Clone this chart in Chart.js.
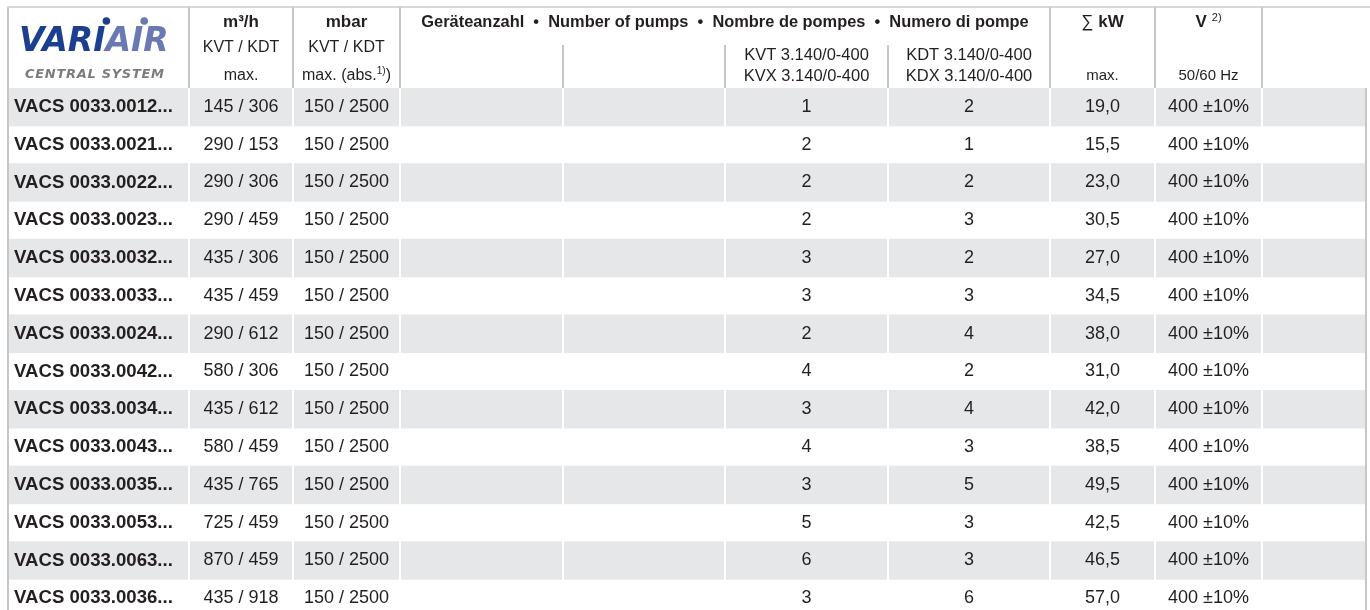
<!DOCTYPE html>
<html>
<head>
<meta charset="utf-8">
<script src="https://cdn.jsdelivr.net/npm/chart.js@4"></script>
<style>
html,body{margin:0;padding:0;background:#fff;overflow:hidden;}
#wrap{position:relative;width:1370px;height:620px;}
</style>
</head>
<body>
<div id="wrap"><canvas id="c"></canvas></div>
<script>
// ---- data ----
const models = ['VACS 0033.0012...','VACS 0033.0021...','VACS 0033.0022...','VACS 0033.0023...','VACS 0033.0032...','VACS 0033.0033...','VACS 0033.0024...','VACS 0033.0042...','VACS 0033.0034...','VACS 0033.0043...','VACS 0033.0035...','VACS 0033.0053...','VACS 0033.0063...','VACS 0033.0036...'];
const flowKVT = [145,290,290,290,435,435,290,580,435,580,435,725,870,435];
const flowKDT = [306,153,306,459,306,459,612,306,612,459,765,459,459,918];
const pressureKVT = [150,150,150,150,150,150,150,150,150,150,150,150,150,150];
const pressureKDT = [2500,2500,2500,2500,2500,2500,2500,2500,2500,2500,2500,2500,2500,2500];
const pumpsKVT = [1,2,2,2,3,3,2,4,3,4,3,5,6,3];
const pumpsKDT = [2,1,2,3,2,3,4,2,4,3,5,3,3,6];
const powerKW = [19.0,15.5,23.0,30.5,27.0,34.5,38.0,31.0,42.0,38.5,49.5,42.5,46.5,57.0];
const voltage = ['400 ±10%','400 ±10%','400 ±10%','400 ±10%','400 ±10%','400 ±10%','400 ±10%','400 ±10%','400 ±10%','400 ±10%','400 ±10%','400 ±10%','400 ±10%','400 ±10%'];
const headerUnits = ['m³/h','mbar','Geräteanzahl  •  Number of pumps  •  Nombre de pompes  •  Numero di pompe','kW','V'];
const subKVTKDT = 'KVT / KDT';
const pumpTypes = [['KVT 3.140/0-400','KVX 3.140/0-400'],['KDT 3.140/0-400','KDX 3.140/0-400']];

// ---- layout / style ----
const COL = [8,189,293,400,563,725,888,1050,1155,1262,1366];
const HEADER_H = 88;
const ROW_H = 37.8;
const TXT = '#231f20';
const STRIPE = '#e6e7e8';
const LINE = '#c6c7c8';
const FONT = '"Liberation Sans", Arial, sans-serif';

const fmtKW = v => v.toFixed(1).replace('.', ',');

const stripeData = models.map((m,i) => i % 2 === 0 ? [COL[0], COL[COL.length-1]] : null);

const tablePlugin = {
  id: 'tablePlugin',
  afterDatasetsDraw(chart) {
    const ctx = chart.ctx;
    const xs = chart.scales.x, ys = chart.scales.y;
    const X = v => xs.getPixelForValue(v);
    const top = chart.chartArea.top;
    const bottom = chart.canvas.height;
    const cx = i => X((COL[i] + COL[i+1]) / 2);
    ctx.save();

    // white separators inside striped rows
    ctx.strokeStyle = '#ffffff';
    ctx.lineWidth = 2;
    for (let i = 1; i < COL.length - 1; i++) {
      ctx.beginPath(); ctx.moveTo(X(COL[i]), top); ctx.lineTo(X(COL[i]), bottom); ctx.stroke();
    }
    // outer borders
    ctx.strokeStyle = LINE;
    ctx.beginPath(); ctx.moveTo(X(COL[0]), 7); ctx.lineTo(X(COL[0]), bottom); ctx.stroke();
    ctx.beginPath(); ctx.moveTo(X(COL[COL.length-1]), top); ctx.lineTo(X(COL[COL.length-1]), bottom); ctx.stroke();
    ctx.strokeStyle = '#d6d7d8';
    ctx.beginPath(); ctx.moveTo(X(COL[0]) - 1, 7); ctx.lineTo(chart.width, 7); ctx.stroke();
    // header separators
    ctx.strokeStyle = LINE;
    [1,2,3,7,8,9].forEach(i => { ctx.beginPath(); ctx.moveTo(X(COL[i]), 7); ctx.lineTo(X(COL[i]), top); ctx.stroke(); });
    [4,5,6].forEach(i => { ctx.beginPath(); ctx.moveTo(X(COL[i]), 45); ctx.lineTo(X(COL[i]), top); ctx.stroke(); });

    // logo
    ctx.textBaseline = 'alphabetic';
    ctx.textAlign = 'left';
    ctx.font = 'italic bold 33px "DejaVu Sans"';
    const lx = X(COL[0]) + 11, ly = 51;
    ctx.fillStyle = '#1d3f8f';
    ctx.fillText('VARI', lx, ly);
    const wV = ctx.measureText('VARI').width;
    const wVAR = ctx.measureText('VAR').width;
    const wI = ctx.measureText('I').width;
    ctx.fillStyle = '#6a78b4';
    ctx.fillText('AIR', lx + wV, ly);
    const wA = ctx.measureText('A').width;
    // dots of the i's
    ctx.fillStyle = '#1d3f8f';
    ctx.beginPath(); ctx.arc(lx + wVAR + wI*0.5 + 7, ly - 30, 3.8, 0, Math.PI*2); ctx.fill();
    ctx.fillStyle = '#6a78b4';
    ctx.beginPath(); ctx.arc(lx + wV + wA + wI*0.5 + 7, ly - 30, 3.8, 0, Math.PI*2); ctx.fill();
    ctx.font = 'italic bold 13px "DejaVu Sans"';
    ctx.fillStyle = '#7b7c7e';
    if ('letterSpacing' in ctx) ctx.letterSpacing = '0.7px';
    ctx.fillText('CENTRAL SYSTEM', X(COL[0]) + 17, 78);
    if ('letterSpacing' in ctx) ctx.letterSpacing = '0px';

    // header texts
    ctx.fillStyle = TXT;
    ctx.textAlign = 'center';
    ctx.textBaseline = 'middle';
    ctx.font = 'bold 17px ' + FONT;
    ctx.fillText(headerUnits[0], cx(1), 22);
    ctx.fillText(headerUnits[1], cx(2), 22);
    ctx.font = 'bold 16.4px ' + FONT;
    ctx.fillText(headerUnits[2], X((COL[3] + COL[7]) / 2), 22);
    // ∑ kW
    ctx.font = '17px ' + FONT;
    const sigW = ctx.measureText('∑ ').width;
    ctx.font = 'bold 17px ' + FONT;
    const kwW = ctx.measureText(headerUnits[3]).width;
    const kx = cx(7) - (sigW + kwW) / 2;
    ctx.textAlign = 'left';
    ctx.font = '17px ' + FONT;
    ctx.fillText('∑ ', kx, 22);
    ctx.font = 'bold 17px ' + FONT;
    ctx.fillText(headerUnits[3], kx + sigW, 22);
    // V with superscript
    const vW = ctx.measureText(headerUnits[4]).width;
    ctx.font = '11px ' + FONT;
    const sW = ctx.measureText('2)').width;
    const vx = cx(8) - (vW + 5 + sW) / 2;
    ctx.font = 'bold 17px ' + FONT;
    ctx.fillText(headerUnits[4], vx, 22);
    ctx.font = '11px ' + FONT;
    ctx.fillText('2)', vx + vW + 5, 18);

    ctx.textAlign = 'center';
    ctx.font = '16px ' + FONT;
    ctx.fillText(subKVTKDT, cx(1), 48);
    ctx.fillText(subKVTKDT, cx(2), 48);
    ctx.fillText('max.', cx(1), 76);
    // max. (abs.1))
    const p1 = 'max. (abs.', p3 = ')';
    const w1 = ctx.measureText(p1).width, w3 = ctx.measureText(p3).width;
    ctx.font = '10px ' + FONT;
    const w2 = ctx.measureText('1)').width;
    let ax = cx(2) - (w1 + w2 + w3) / 2;
    ctx.textAlign = 'left';
    ctx.font = '16px ' + FONT;
    ctx.fillText(p1, ax, 76);
    ctx.font = '10px ' + FONT;
    ctx.fillText('1)', ax + w1, 71);
    ctx.font = '16px ' + FONT;
    ctx.fillText(p3, ax + w1 + w2, 76);
    ctx.textAlign = 'center';
    ctx.font = '16.5px ' + FONT;
    ctx.fillText(pumpTypes[0][0], cx(5), 55);
    ctx.fillText(pumpTypes[0][1], cx(5), 76);
    ctx.fillText(pumpTypes[1][0], cx(6), 55);
    ctx.fillText(pumpTypes[1][1], cx(6), 76);
    ctx.font = '15px ' + FONT;
    ctx.fillText('max.', cx(7), 76);
    ctx.fillText('50/60 Hz', cx(8), 76);

    // body cells
    models.forEach((m, i) => {
      const y = ys.getPixelForValue(i);
      ctx.textAlign = 'left';
      ctx.font = 'bold 18.6px ' + FONT;
      ctx.fillText(m, X(COL[0]) + 6, y);
      ctx.textAlign = 'center';
      ctx.font = '18px ' + FONT;
      ctx.fillText(flowKVT[i] + ' / ' + flowKDT[i], cx(1), y);
      ctx.fillText(pressureKVT[i] + ' / ' + pressureKDT[i], cx(2), y);
      ctx.fillText(String(pumpsKVT[i]), cx(5), y);
      ctx.fillText(String(pumpsKDT[i]), cx(6), y);
      ctx.fillText(fmtKW(powerKW[i]), cx(7), y);
      ctx.fillText(voltage[i], cx(8), y);
    });
    ctx.restore();
  }
};

new Chart(document.getElementById('c'), {
  type: 'bar',
  data: {
    labels: models,
    datasets: [{
      data: stripeData,
      backgroundColor: STRIPE,
      borderWidth: 0,
      barPercentage: 1,
      categoryPercentage: 1
    }]
  },
  options: {
    indexAxis: 'y',
    responsive: true,
    maintainAspectRatio: false,
    animation: false,
    layout: { padding: { top: HEADER_H, bottom: 620 - HEADER_H - ROW_H * models.length, left: 0, right: 0 } },
    plugins: { legend: { display: false }, tooltip: { enabled: false } },
    scales: {
      x: { type: 'linear', min: 0, max: 1370, display: false },
      y: { type: 'category', display: false, offset: true }
    }
  },
  plugins: [tablePlugin]
});
</script>
</body>
</html>
